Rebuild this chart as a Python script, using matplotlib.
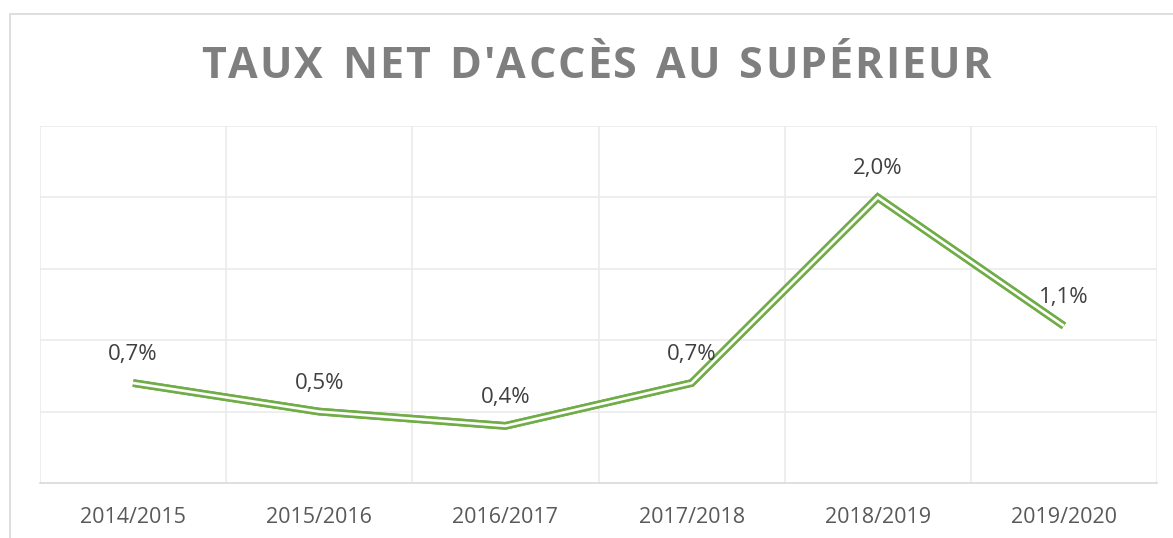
import matplotlib.pyplot as plt
from matplotlib.patches import Rectangle
import matplotlib.patheffects as pe

# Data
years = ['2014/2015', '2015/2016', '2016/2017', '2017/2018', '2018/2019', '2019/2020']
taux = [0.7, 0.5, 0.4, 0.7, 2.0, 1.1]
labels = ['0,7%', '0,5%', '0,4%', '0,7%', '2,0%', '1,1%']
title = "TAUX NET D'ACCÈS AU SUPÉRIEUR"

W, H = 1173, 538
fig = plt.figure(figsize=(W / 100, H / 100), dpi=100)
fig.patch.set_facecolor('white')

# chart border (cropped on right and bottom)
fig.patches.append(Rectangle((10 / W, -0.1), 1.2, (H - 14) / H + 0.1,
                             transform=fig.transFigure, fill=False,
                             edgecolor='#D9D9D9', linewidth=1.2))

ax = fig.add_axes([40 / W, (H - 483) / H, 1117 / W, 357 / H])
x = list(range(len(years)))

# double green line: thick green stroke with thin white core
ax.plot(x, taux, color='#70AD47', linewidth=5.6, solid_joinstyle='miter',
        solid_capstyle='butt', zorder=3,
        path_effects=[pe.Stroke(linewidth=5.6, foreground='#70AD47'), pe.Normal()])
ax.plot(x, taux, color='white', linewidth=1.9, solid_joinstyle='miter',
        solid_capstyle='butt', zorder=4)

for xi, v, lab in zip(x, taux, labels):
    ax.annotate(lab, (xi, v), xytext=(0, 16.5), textcoords='offset points',
                ha='center', va='baseline', fontsize=16, color='#404040',
                family='Open Sans', zorder=5)

ax.set_xlim(-0.5, len(years) - 0.5)
ax.set_ylim(0, 2.5)
ax.set_yticks([0.5, 1.0, 1.5, 2.0, 2.5])
ax.set_yticklabels([])
ax.set_xticks(x)
ax.set_xticklabels(years, fontsize=15.5, color='#595959', family='Open Sans')
ax.set_xticks([i - 0.5 for i in range(len(years) + 1)], minor=True)
ax.tick_params(axis='both', which='both', length=0)
ax.tick_params(axis='x', pad=17)
ax.grid(True, axis='y', which='major', color='#EBEBEB', linewidth=1.2)
ax.grid(True, axis='x', which='minor', color='#EBEBEB', linewidth=1.2)
ax.set_axisbelow(True)
for side in ['top', 'right', 'left']:
    ax.spines[side].set_visible(False)
ax.spines['bottom'].set_color('#D9D9D9')
ax.spines['bottom'].set_linewidth(1.2)

# letter-spaced title, drawn char by char
left_px, right_px, base_px = 201, 990, 78
renderer = fig.canvas.get_renderer()
widths = []
for ch in title:
    t = fig.text(0, 0, ch if ch != ' ' else 'n', fontsize=31, fontweight='bold',
                 family='Open Sans')
    bb = t.get_window_extent(renderer)
    widths.append(bb.width * (0.55 if ch == ' ' else 1))
    t.remove()
gap = (right_px - left_px - sum(widths)) / (len(title) - 1)
cx = left_px
for ch, w in zip(title, widths):
    if ch != ' ':
        fig.text(cx / W, (H - base_px) / H, ch, fontsize=31, fontweight='bold',
                 family='Open Sans', color='#7F7F7F', ha='left', va='baseline')
    cx += w + gap

fig.savefig('out.png', dpi=100, facecolor='white')
